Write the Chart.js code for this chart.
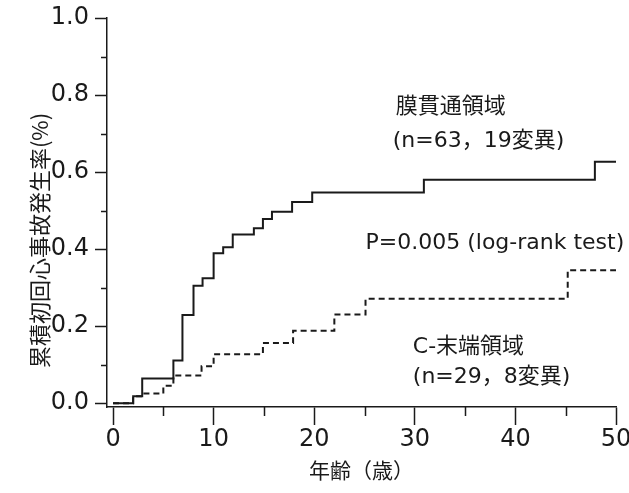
<!DOCTYPE html>
<html>
<head>
<meta charset="utf-8">
<script src="https://cdn.jsdelivr.net/npm/chart.js@4"></script>
<style>
    html, body { margin: 0; padding: 0; background: #fff; }
    #wrap { width: 629px; height: 493px; }
</style>
</head>
<body>
<div id="wrap"><canvas id="kmChart" width="629" height="493"></canvas></div>
<script>
// Kaplan-Meier step data: [age, cumulative rate]
const membraneAges  = [0, 2.0, 2.9, 6.0, 6.9, 8.0, 8.9, 10.0, 10.95, 11.9, 14.0, 14.9, 15.8, 17.8, 19.8, 30.9, 47.9, 50];
const membraneRates = [0, 0.018, 0.064, 0.111, 0.229, 0.305, 0.324, 0.389, 0.405, 0.438, 0.454, 0.478, 0.497, 0.522, 0.547, 0.58, 0.627, 0.627];

const cTermAges  = [0, 2.0, 2.9, 5.0, 6.0, 8.8, 10.0, 14.9, 17.9, 22.0, 25.1, 45.2, 50];
const cTermRates = [0, 0.018, 0.025, 0.045, 0.072, 0.096, 0.127, 0.156, 0.188, 0.230, 0.271, 0.345, 0.345];

// axis ticks
const xMajorTicks = [0, 10, 20, 30, 40, 50];
const xMinorTicks = [5, 15, 25, 35, 45];
const yMajorTicks = [0, 0.2, 0.4, 0.6, 0.8, 1.0];
const yMinorTicks = [0.1, 0.3, 0.5, 0.7, 0.9];

const INK = '#1a1a1a';
const LATIN = '"DejaVu Sans", "Noto Sans CJK JP", sans-serif';
const CJK = '"Noto Sans CJK JP", "DejaVu Sans", sans-serif';

const toPoints = (xs, ys) => xs.map((x, i) => ({ x: x, y: ys[i] }));

// minor ticks, in-plot labels and the vertical axis title
const decorations = {
    id: 'decorations',
    afterDraw(chart) {
        const ctx = chart.ctx;
        const xs = chart.scales.x;
        const ys = chart.scales.y;
        const area = chart.chartArea;

        ctx.save();
        ctx.strokeStyle = INK;
        ctx.lineWidth = 1.5;
        ctx.beginPath();
        yMinorTicks.forEach(v => {
            const py = Math.round(ys.getPixelForValue(v)) + 0.5;
            ctx.moveTo(area.left - 6, py);
            ctx.lineTo(area.left, py);
        });
        xMinorTicks.forEach(v => {
            const px = Math.round(xs.getPixelForValue(v)) + 0.5;
            ctx.moveTo(px, area.bottom);
            ctx.lineTo(px, area.bottom + 9);
        });
        ctx.stroke();

        ctx.fillStyle = INK;
        ctx.textAlign = 'left';
        ctx.textBaseline = 'middle';
        const label = (text, x, y, font) => {
            ctx.font = font;
            ctx.fillText(text, xs.getPixelForValue(x), ys.getPixelForValue(y));
        };
        label('膜貫通領域', 28.1, 0.775, '22px ' + CJK);
        label('(n=63，19変異)', 27.8, 0.68, '22px ' + LATIN);
        label('P=0.005 (log-rank test)', 25.1, 0.416, '22px ' + LATIN);
        label('C-末端領域', 29.8, 0.144, '22px ' + LATIN);
        label('(n=29，8変異)', 29.8, 0.066, '22px ' + LATIN);

        // y axis title, rotated
        ctx.translate(40, (area.top + area.bottom) / 2 + 28);
        ctx.rotate(-Math.PI / 2);
        ctx.textAlign = 'center';
        ctx.font = '22px ' + CJK;
        ctx.fillText('累積初回心事故発生率(%)', 0, 0);
        ctx.restore();
    }
};

new Chart(document.getElementById('kmChart'), {
    type: 'line',
    data: {
        datasets: [
            {
                label: '膜貫通領域',
                data: toPoints(membraneAges, membraneRates),
                stepped: 'before',
                borderColor: INK,
                borderWidth: 2,
                pointRadius: 0,
                fill: false
            },
            {
                label: 'C-末端領域',
                data: toPoints(cTermAges, cTermRates),
                stepped: 'before',
                borderColor: INK,
                borderWidth: 2,
                borderDash: [6, 4],
                pointRadius: 0,
                fill: false
            }
        ]
    },
    options: {
        responsive: false,
        animation: false,
        devicePixelRatio: 1,
        layout: { padding: { top: 18, right: 13, left: 0, bottom: 0 } },
        plugins: {
            legend: { display: false },
            tooltip: { enabled: false }
        },
        scales: {
            x: {
                type: 'linear',
                min: -0.6,
                max: 50,
                afterBuildTicks: s => { s.ticks = xMajorTicks.map(v => ({ value: v })); },
                afterFit: s => { s.height = 86; s.paddingLeft = 0; s.paddingRight = 0; },
                border: { display: true, color: INK, width: 1.5 },
                grid: { drawOnChartArea: false, drawTicks: true, tickLength: 18, tickColor: INK, tickWidth: 1.5 },
                ticks: {
                    color: INK,
                    padding: 0,
                    maxRotation: 0,
                    font: { family: LATIN, size: 24 }
                },
                title: {
                    display: true,
                    text: '年齢（歳）',
                    color: INK,
                    font: { family: CJK, size: 21 },
                    padding: { top: 0, bottom: 10 }
                }
            },
            y: {
                type: 'linear',
                min: -0.01,
                max: 1.0,
                afterBuildTicks: s => { s.ticks = yMajorTicks.map(v => ({ value: v })); },
                afterFit: s => { s.width = 107; s.paddingTop = 0; s.paddingBottom = 0; },
                border: { display: true, color: INK, width: 1.5 },
                grid: { drawOnChartArea: false, drawTicks: true, tickLength: 12, tickColor: INK, tickWidth: 1.5 },
                ticks: {
                    color: INK,
                    padding: 6,
                    font: { family: LATIN, size: 24 },
                    callback: v => v.toFixed(1)
                }
            }
        }
    },
    plugins: [decorations]
});
</script>
</body>
</html>
